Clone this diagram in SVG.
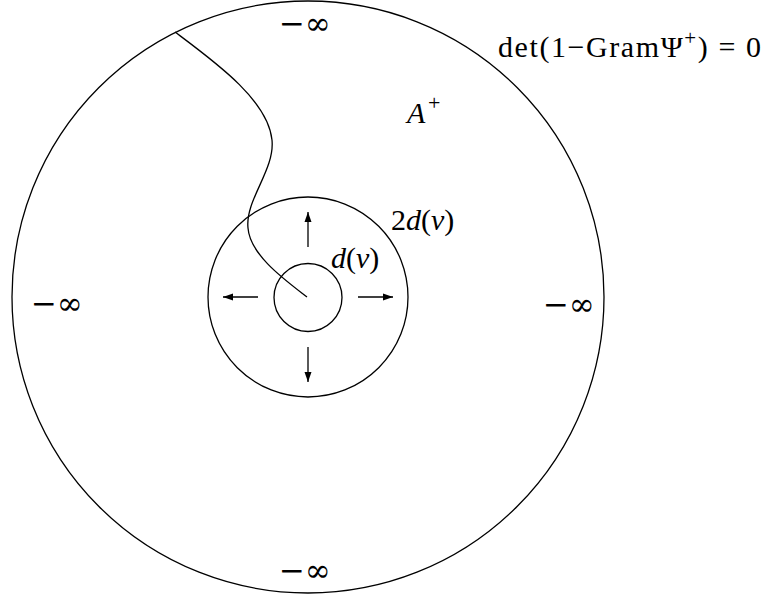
<svg xmlns="http://www.w3.org/2000/svg" width="769" height="599" viewBox="0 0 769 599">
<style>
.ln{fill:none;stroke:#000;stroke-width:1.3}
.t{font-family:"Liberation Serif","DejaVu Serif",serif;font-size:30px;fill:#000}
.i{font-style:italic}
.inf{font-family:"DejaVu Serif","Liberation Serif",serif;font-size:31px;fill:#000}
</style>
<defs>
<marker id="ah" markerUnits="userSpaceOnUse" markerWidth="11" markerHeight="8" refX="10" refY="4" orient="auto">
<path d="M0,0.5 L10,4 L0,7.5 z" fill="#000"/>
</marker>
</defs>
<g id="outer">
<circle class="ln" cx="308" cy="297" r="296"/>
</g>
<g id="middle">
<circle class="ln" cx="308" cy="297" r="100"/>
</g>
<g id="inner">
<circle class="ln" cx="308" cy="297.5" r="34"/>
</g>
<g id="connectors">
<path class="ln" d="M175,32 C215,62 268,100 272,140 C275,170 245,200 248,228 C250,255 285,280 307,297"/>
<line class="ln" x1="308" y1="247" x2="308" y2="212" marker-end="url(#ah)"/>
<line class="ln" x1="308" y1="347" x2="308" y2="382" marker-end="url(#ah)"/>
<line class="ln" x1="258" y1="297" x2="223" y2="297" marker-end="url(#ah)"/>
<line class="ln" x1="358" y1="297" x2="393" y2="297" marker-end="url(#ah)"/>
</g>
<g id="labels">
<text class="inf" x="305" y="34" text-anchor="middle">−∞</text>
<text class="inf" x="57" y="314" text-anchor="middle">−∞</text>
<text class="inf" x="569" y="315" text-anchor="middle">−∞</text>
<text class="inf" x="305" y="581" text-anchor="middle">−∞</text>
<text class="t" x="498" y="57" font-size="31" textLength="263" lengthAdjust="spacing">det(1−GramΨ<tspan dy="-12" font-size="21">+</tspan><tspan dy="12">) = 0</tspan></text>
<text class="t" y="123"><tspan x="407" class="i">A</tspan><tspan x="428" y="110" font-size="22">+</tspan></text>
<text class="t" y="230"><tspan x="391">2</tspan><tspan class="i">d</tspan><tspan>(</tspan><tspan class="i">ν</tspan><tspan>)</tspan></text>
<text class="t" y="268"><tspan x="331" class="i">d</tspan><tspan>(</tspan><tspan class="i">ν</tspan><tspan>)</tspan></text>
</g>
</svg>
